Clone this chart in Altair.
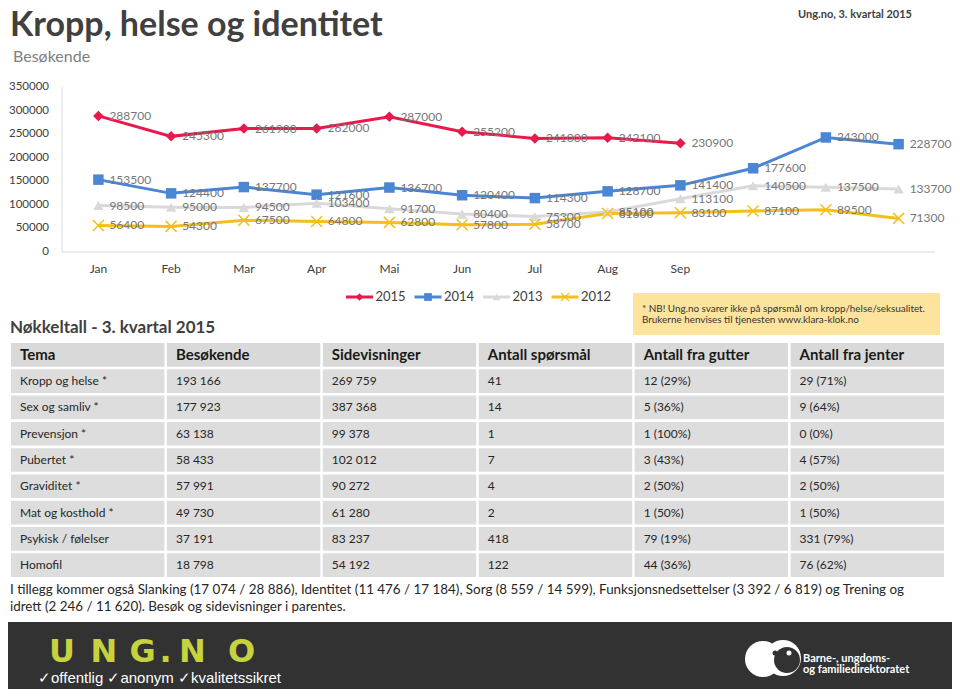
import altair as alt
import pandas as pd

FONT = "Lato"

# ---------------- data ----------------
months = ["Jan", "Feb", "Mar", "Apr", "Mai", "Jun", "Jul", "Aug", "Sep", "Okt", "Nov", "Des"]
month_labels = ["Jan", "Feb", "Mar", "Apr", "Mai", "Jun", "Jul", "Aug", "Sep", "", "", ""]
series = ["2015", "2014", "2013", "2012"]
v2015 = [288700, 245300, 261900, 262000, 287000, 255200, 241000, 242100, 230900]
v2014 = [153500, 124400, 137700, 121600, 136700, 120400, 114300, 128700, 141400, 177600, 243000, 228700]
v2013 = [98500, 95000, 94500, 103400, 91700, 80400, 75300, 85100, 113100, 140500, 137500, 133700]
v2012 = [56400, 54300, 67500, 64800, 62800, 57800, 58700, 81600, 83100, 87100, 89500, 71300]
y_ticks = [0, 50000, 100000, 150000, 200000, 250000, 300000, 350000]
series_colors = ["#e8194b", "#4a86d4", "#d9d9d9", "#f5bf1b"]

headers = ["Tema", "Besøkende", "Sidevisninger", "Antall spørsmål", "Antall fra gutter", "Antall fra jenter"]
tema = ["Kropp og helse *", "Sex og samliv *", "Prevensjon *", "Pubertet *", "Graviditet *",
        "Mat og kosthold *", "Psykisk / følelser", "Homofil"]
besokende = ["193 166", "177 923", "63 138", "58 433", "57 991", "49 730", "37 191", "18 798"]
sidevisninger = ["269 759", "387 368", "99 378", "102 012", "90 272", "61 280", "83 237", "54 192"]
sporsmal = ["41", "14", "1", "7", "4", "2", "418", "122"]
gutter = ["12 (29%)", "5 (36%)", "1 (100%)", "3 (43%)", "2 (50%)", "1 (50%)", "79 (19%)", "44 (36%)"]
jenter = ["29 (71%)", "9 (64%)", "0 (0%)", "4 (57%)", "2 (50%)", "1 (50%)", "331 (79%)", "76 (62%)"]

# ---------------- tables ----------------
recs = []
for s, vals in zip(series, [v2015, v2014, v2013, v2012]):
    for m, v in zip(months, vals):
        recs.append({"month": m, "series": s, "value": v})
lines_df = pd.DataFrame(recs)
ticks_df = pd.DataFrame({"tick": y_ticks})
mlab_df = pd.DataFrame({"month": months, "label": month_labels})
leg_df = pd.DataFrame({"series": series})

table_cols = [tema, besokende, sidevisninger, sporsmal, gutter, jenter]
row_keys = [f"r{i}" for i in range(len(tema) + 1)]
trecs = []
for h, colvals in zip(headers, table_cols):
    trecs.append({"row": row_keys[0], "col": h, "text": h, "kind": "h"})
    for i, t in enumerate(colvals):
        trecs.append({"row": row_keys[i + 1], "col": h, "text": t, "kind": "b"})
table_df = pd.DataFrame(trecs)
one = pd.DataFrame({"k": [0]})

# ---------------- scales ----------------
xs = alt.Scale(type="point", domain=months, range=[54, 927], padding=0.5)
ys = alt.Scale(domain=[0, 350000], range=[244, 79], nice=False, zero=True)
cs = alt.Scale(domain=series, range=series_colors)
lx = alt.Scale(type="point", domain=series, range=[351.5, 557], padding=0)
tx = alt.Scale(type="band", domain=headers, range=[3, 936], paddingInner=0.016, paddingOuter=0)
ty = alt.Scale(type="band", domain=row_keys, range=[335, 569], paddingInner=0.1, paddingOuter=0)

XM = alt.X("month:N", scale=xs, axis=None)
YV = alt.Y("value:Q", scale=ys, axis=None)
COL = alt.Color("series:N", scale=cs, legend=None)
XPATH = "M-1,-1L1,1M-1,1L1,-1"


def txt(t, x, y, size, color, weight="normal", align="left", baseline="middle", font=FONT):
    return alt.Chart(one).mark_text(
        text=t, align=align, baseline=baseline, fontSize=size, color=color,
        fontWeight=weight, font=font
    ).encode(x=alt.value(x), y=alt.value(y))


def box(x1, x2, y1, y2, color):
    return alt.Chart(one).mark_rect(color=color).encode(
        x=alt.value(x1), x2=alt.value(x2), y=alt.value(y1), y2=alt.value(y2))


def dot(x, y, d, color):
    return alt.Chart(one).mark_point(shape="circle", filled=True, opacity=1, size=d * d, color=color).encode(
        x=alt.value(x), y=alt.value(y))


layers = []

# header
layers.append(txt("Kropp, helse og identitet", 2, 28, 34, "#404040", weight="bold", baseline="alphabetic"))
layers.append(txt("Besøkende", 5, 49, 16, "#7f7f7f"))
layers.append(txt("Ung.no, 3. kvartal 2015", 904, 1, 11, "#404040", weight="bold", align="right", baseline="top"))

# axes (drawn through the chart scales)
layers.append(alt.Chart(one).mark_rule(color="#d9d9d9", strokeWidth=1).encode(
    x=alt.value(54), x2=alt.value(927), y=alt.Y("zero:Q", scale=ys, axis=None)
).transform_calculate(zero="0"))
layers.append(alt.Chart(one).mark_rule(color="#d9d9d9", strokeWidth=1).encode(
    x=alt.value(54), y=alt.value(79), y2=alt.value(244)))
layers.append(alt.Chart(ticks_df).mark_text(align="right", baseline="middle", fontSize=11.5, font=FONT,
                                             color="#404040").encode(
    x=alt.value(41), y=alt.Y("tick:Q", scale=ys, axis=None), text=alt.Text("tick:Q", format="d")))
layers.append(alt.Chart(mlab_df).mark_text(align="center", baseline="middle", fontSize=12, font=FONT,
                                            color="#404040").encode(
    x=XM, y=alt.value(261), text="label:N"))

# lines
layers.append(alt.Chart(lines_df).mark_line(strokeWidth=3).encode(
    x=XM, y=YV, color=COL, detail="series:N"))
layers.append(alt.Chart(lines_df).transform_filter(alt.datum.series != "2012").mark_point(
    filled=True, opacity=1, size=110).encode(
    x=XM, y=YV, color=COL,
    shape=alt.Shape("series:N", scale=alt.Scale(domain=["2015", "2014", "2013"],
                                                range=["diamond", "square", "triangle-up"]), legend=None)))
layers.append(alt.Chart(lines_df).transform_filter(alt.datum.series == "2012").mark_point(
    filled=False, opacity=1, size=121, shape=XPATH, strokeWidth=1.5).encode(x=XM, y=YV, color=COL))
layers.append(alt.Chart(lines_df).mark_text(align="left", baseline="middle", dx=11, fontSize=12, font=FONT,
                                             color="#777777").encode(
    x=XM, y=YV, text=alt.Text("value:Q", format="d")))

# legend
LXX = alt.X("series:N", scale=lx, axis=None)
layers.append(alt.Chart(leg_df).mark_point(shape="M-1,0L1,0", size=729, strokeWidth=3, filled=False,
                                            opacity=1).encode(x=LXX, y=alt.value(289), color=COL))
layers.append(alt.Chart(leg_df).transform_filter(alt.datum.series != "2012").mark_point(
    filled=True, opacity=1, size=60).encode(
    x=LXX, y=alt.value(289), color=COL,
    shape=alt.Shape("series:N", scale=alt.Scale(domain=["2015", "2014", "2013"],
                                                range=["diamond", "square", "triangle-up"]), legend=None)))
layers.append(alt.Chart(leg_df).transform_filter(alt.datum.series == "2012").mark_point(
    filled=False, opacity=1, size=64, shape=XPATH, strokeWidth=1.2).encode(x=LXX, y=alt.value(289), color=COL))
layers.append(alt.Chart(leg_df).mark_text(align="left", baseline="middle", dx=16, fontSize=13, font=FONT,
                                           color="#404040").encode(x=LXX, y=alt.value(289), text="series:N"))

# note box
layers.append(box(625, 932, 285, 327, "#fde49e"))
layers.append(txt("* NB! Ung.no svarer ikke på spørsmål om kropp/helse/seksualitet.", 634, 301, 9.9, "#333333"))
layers.append(txt("Brukerne henvises til tjenesten www.klara-klok.no", 634, 312, 9.9, "#333333"))

layers.append(txt("Nøkkeltall - 3. kvartal 2015", 2, 320, 17, "#404040", weight="bold"))

# table
layers.append(alt.Chart(table_df).mark_rect().encode(
    x=alt.X("col:N", scale=tx, axis=None), y=alt.Y("row:N", scale=ty, axis=None),
    color=alt.Color("kind:N", scale=alt.Scale(domain=["h", "b"], range=["#d9d9d9", "#dddddd"]), legend=None)))
layers.append(alt.Chart(table_df).transform_filter(alt.datum.kind == "h").mark_text(
    align="left", baseline="middle", dx=9, fontSize=15, fontWeight="bold", font=FONT, color="#1a1a1a").encode(
    x=alt.X("col:N", scale=tx, axis=None, bandPosition=0), y=alt.Y("row:N", scale=ty, axis=None), text="text:N"))
layers.append(alt.Chart(table_df).transform_filter(alt.datum.kind == "b").mark_text(
    align="left", baseline="middle", dx=9, fontSize=12, font=FONT, color="#262626").encode(
    x=alt.X("col:N", scale=tx, axis=None, bandPosition=0), y=alt.Y("row:N", scale=ty, axis=None), text="text:N"))

layers.append(txt("I tillegg kommer også Slanking (17 074 / 28 886), Identitet (11 476 / 17 184), Sorg (8 559 / 14 599), "
                  "Funksjonsnedsettelser (3 392 / 6 819) og Trening og", 2, 582, 13.4, "#262626"))
layers.append(txt("idrett (2 246 / 11 620). Besøk og sidevisninger i parentes.", 2, 599, 13.4, "#262626"))

# footer
layers.append(box(0, 944, 614, 681, "#323232"))
for letter, cx in zip(["U", "N", "G", ".", "N", "O"], [54, 96, 134.5, 157.5, 184.5, 233.5]):
    layers.append(txt(letter, cx, 644, 32, "#c6d33f", weight="bold", align="center", font="DejaVu Sans"))
layers.append(txt("✓offentlig ✓anonym ✓kvalitetssikret", 30, 670, 15, "#ffffff", font="Liberation Sans"))
layers.append(dot(755, 651, 36, "#ffffff"))
layers.append(dot(775, 650, 36, "#ffffff"))
layers.append(dot(779, 652, 26, "#323232"))
layers.append(dot(767, 645, 5, "#323232"))
layers.append(dot(781, 645, 5, "#ffffff"))
layers.append(txt("Barne-, ungdoms-", 795, 651, 11, "#ffffff", weight="bold"))
layers.append(txt("og familiedirektoratet", 795, 662, 11, "#ffffff", weight="bold"))

chart = alt.layer(*layers).resolve_scale(
    x="independent", y="independent", color="independent", shape="independent"
).properties(
    width=944, height=681, autosize="none", padding=0, background="#ffffff"
).configure_view(strokeWidth=0)

chart.save("out.html", embed_options={"renderer": "svg", "actions": False})
